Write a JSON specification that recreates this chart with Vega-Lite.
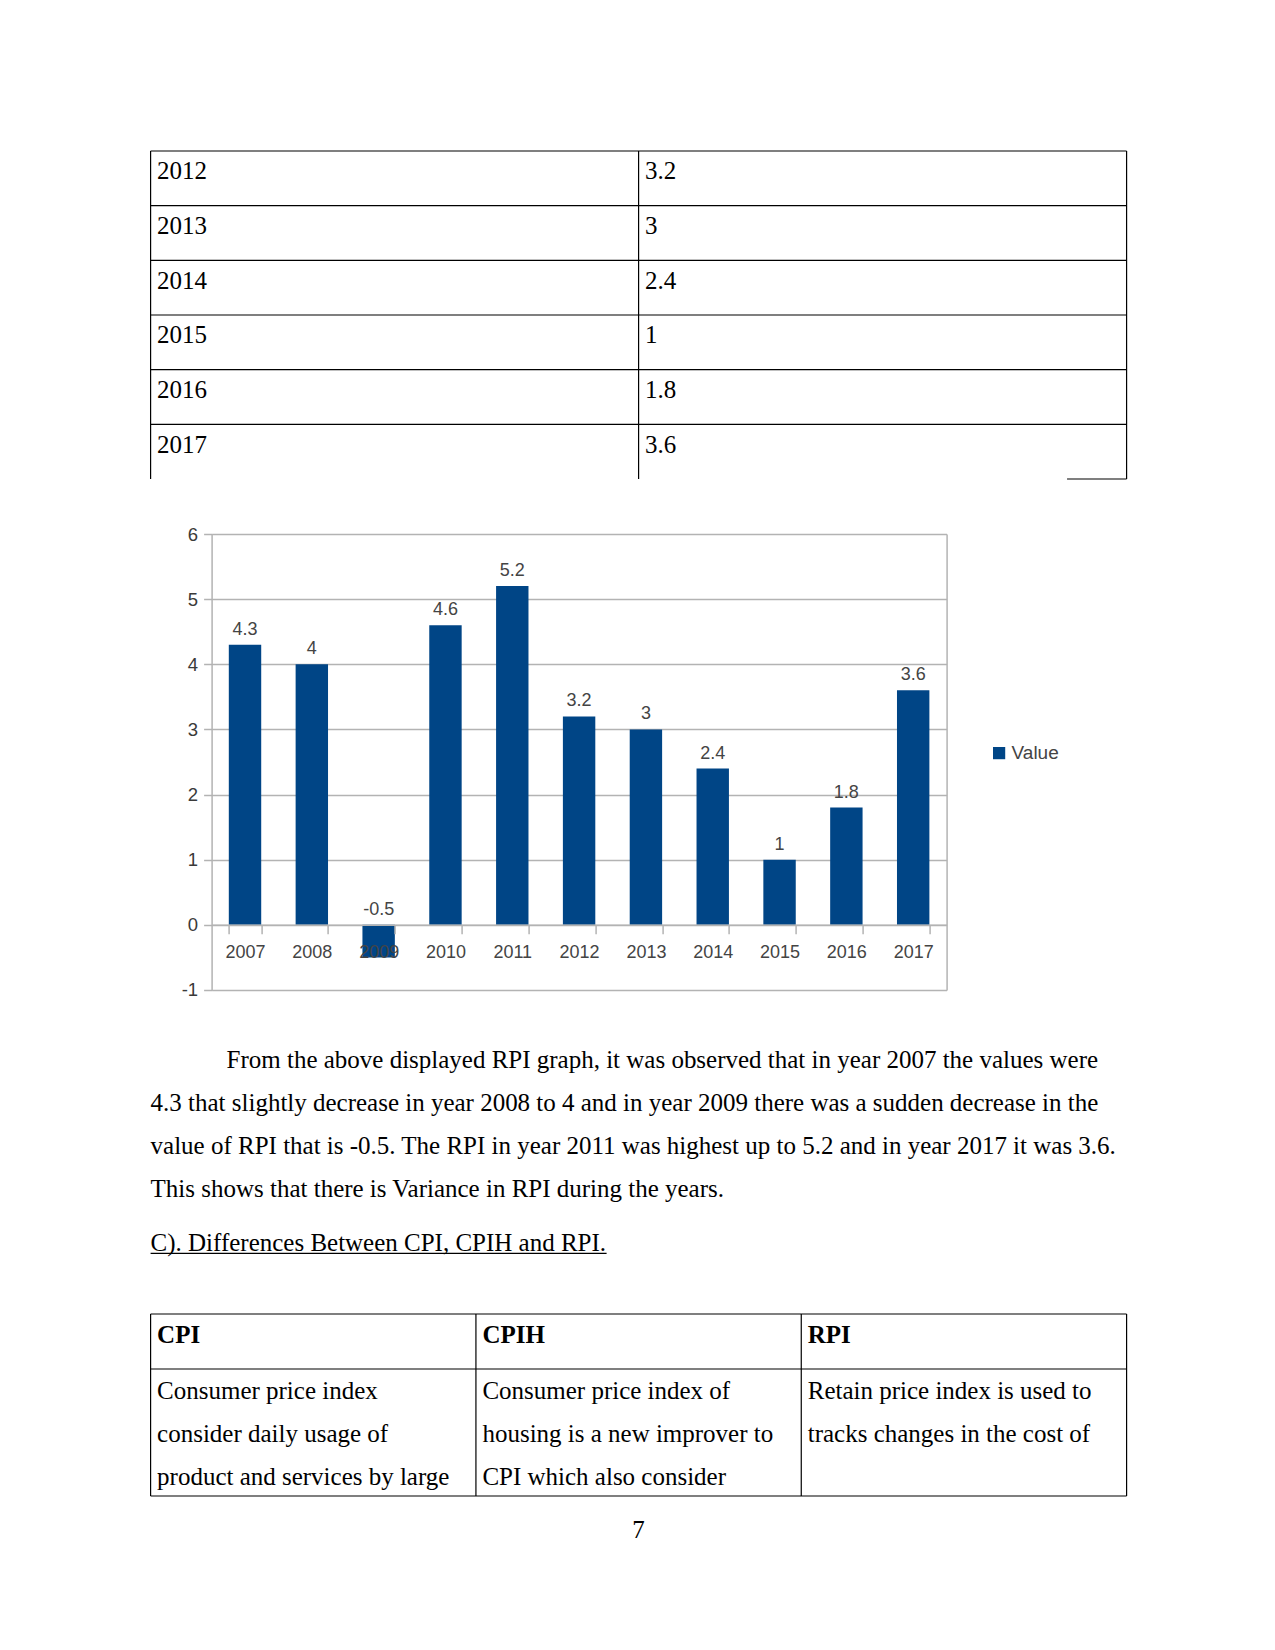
{
  "$schema": "https://vega.github.io/schema/vega-lite/v6.json",
  "background": "white",
  "padding": {"left": 149.6, "top": 150, "right": 0, "bottom": 0},
  "config": {"view": {"stroke": null}},
  "bounds": "flush",
  "spacing": 0,
  "vconcat": [
    {
      "width": 976,
      "height": 328,
      "data": {"values": [
        {"row": "2012", "col": "Year", "text": "2012"}, {"row": "2012", "col": "Value", "text": "3.2"},
        {"row": "2013", "col": "Year", "text": "2013"}, {"row": "2013", "col": "Value", "text": "3"},
        {"row": "2014", "col": "Year", "text": "2014"}, {"row": "2014", "col": "Value", "text": "2.4"},
        {"row": "2015", "col": "Year", "text": "2015"}, {"row": "2015", "col": "Value", "text": "1"},
        {"row": "2016", "col": "Year", "text": "2016"}, {"row": "2016", "col": "Value", "text": "1.8"},
        {"row": "2017", "col": "Year", "text": "2017"}, {"row": "2017", "col": "Value", "text": "3.6"}
      ]},
      "layer": [
        {
          "transform": [{"filter": "datum.col === 'Year'"}],
          "mark": {"type": "rule", "color": "#000000", "strokeWidth": 1.2},
          "encoding": {"y": {"field": "row", "type": "ordinal", "bandPosition": 0, "scale": {"type": "band", "paddingInner": 0, "paddingOuter": 0}, "axis": null}}
        },
        {
          "transform": [{"filter": "datum.row === '2012'"}],
          "mark": {"type": "rule", "color": "#000000", "strokeWidth": 1.2},
          "encoding": {"x": {"field": "col", "type": "nominal", "sort": ["Year", "Value"], "bandPosition": 0, "scale": {"type": "band", "paddingInner": 0, "paddingOuter": 0}, "axis": null}}
        },
        {
          "transform": [{"filter": "datum.row === '2012' && datum.col === 'Value'"}],
          "mark": {"type": "rule", "color": "#000000", "strokeWidth": 1.2},
          "encoding": {"x": {"field": "col", "type": "nominal", "sort": ["Year", "Value"], "bandPosition": 1, "scale": {"type": "band", "paddingInner": 0, "paddingOuter": 0}, "axis": null}}
        },
        {
          "transform": [{"filter": "datum.row === '2017' && datum.col === 'Value'"}],
          "mark": {"type": "rule", "color": "#000000", "strokeWidth": 1.2},
          "encoding": {
            "x": {"field": "col", "type": "nominal", "sort": ["Year", "Value"], "bandPosition": 0.878, "scale": {"type": "band", "paddingInner": 0, "paddingOuter": 0}, "axis": null},
            "x2": {"field": "col", "bandPosition": 1},
            "y": {"field": "row", "type": "ordinal", "bandPosition": 1, "scale": {"type": "band", "paddingInner": 0, "paddingOuter": 0}, "axis": null}
          }
        },
        {
          "mark": {"type": "text", "align": "left", "baseline": "alphabetic", "dx": 6.5, "dy": 28.3, "font": "Liberation Serif", "fontSize": 25, "color": "#000000"},
          "encoding": {
            "x": {"field": "col", "type": "nominal", "sort": ["Year", "Value"], "bandPosition": 0, "scale": {"type": "band", "paddingInner": 0, "paddingOuter": 0}, "axis": null},
            "y": {"field": "row", "type": "ordinal", "bandPosition": 0, "scale": {"type": "band", "paddingInner": 0, "paddingOuter": 0}, "axis": null},
            "text": {"field": "text"}
          }
        }
      ]
    },
    {"width": 20, "height": 55, "data": {"values": [{}]}, "mark": {"type": "point", "opacity": 0}, "encoding": {}},
    {
      "width": 796,
      "height": 456,
      "data": {"values": [
        {"year": "2007", "value": 4.3},
        {"year": "2008", "value": 4},
        {"year": "2009", "value": -0.5},
        {"year": "2010", "value": 4.6},
        {"year": "2011", "value": 5.2},
        {"year": "2012", "value": 3.2},
        {"year": "2013", "value": 3},
        {"year": "2014", "value": 2.4},
        {"year": "2015", "value": 1},
        {"year": "2016", "value": 1.8},
        {"year": "2017", "value": 3.6}
      ]},
      "encoding": {
        "x": {
          "field": "year", "type": "ordinal",
          "scale": {"type": "band", "range": [61, 796], "paddingInner": 0.515, "paddingOuter": 0.2575},
          "axis": {
            "title": null, "orient": "bottom", "offset": -65.14, "labelAngle": 0,
            "domain": true, "domainColor": "#b3b3b3", "domainWidth": 1.5,
            "ticks": true, "tickBand": "extent", "tickSize": 9, "tickColor": "#b3b3b3", "tickWidth": 1.5,
            "labelPadding": 9.8, "labelFont": "Liberation Sans", "labelFontSize": 18, "labelColor": "#444444",
            "grid": false, "zindex": 1
          }
        }
      },
      "layer": [
        {
          "mark": {"type": "bar"},
          "encoding": {
            "y": {
              "field": "value", "type": "quantitative",
              "scale": {"domain": [-1, 6], "nice": false, "zero": false},
              "axis": {
                "title": null, "orient": "left", "offset": -61, "values": [-1, 0, 1, 2, 3, 4, 5, 6], "labelExpr": "'' + datum.value",
                "grid": true, "gridColor": "#b3b3b3", "gridWidth": 1.5,
                "domain": true, "domainColor": "#b3b3b3", "domainWidth": 1.5,
                "ticks": true, "tickSize": 8, "tickColor": "#b3b3b3", "tickWidth": 1.5,
                "labelPadding": 6, "labelFont": "Liberation Sans", "labelFontSize": 18.5, "labelColor": "#3a3a3a",
                "zindex": 0
              }
            },
            "color": {
              "datum": "Value", "type": "nominal",
              "scale": {"range": ["#004586"]},
              "legend": {
                "title": null, "orient": "none", "legendX": 839, "legendY": 592.6, "padding": 0,
                "symbolType": "square", "symbolSize": 150, "symbolStrokeWidth": 0,
                "labelFont": "Liberation Sans", "labelFontSize": 19, "labelColor": "#444444", "labelOffset": 3
              }
            }
          }
        },
        {
          "transform": [{"filter": "datum.value >= 0"}],
          "mark": {"type": "text", "font": "Liberation Sans", "fontSize": 18, "color": "#444444", "baseline": "alphabetic", "align": "center", "dy": -10},
          "encoding": {
            "y": {
              "field": "value", "type": "quantitative",
              "axis": {"title": null, "orient": "right", "labels": false, "ticks": false, "grid": false, "domain": true, "domainColor": "#b3b3b3", "domainWidth": 1.5}
            },
            "text": {"field": "value", "type": "nominal"}
          }
        },
        {
          "transform": [{"filter": "datum.value < 0"}],
          "mark": {"type": "text", "font": "Liberation Sans", "fontSize": 18, "color": "#444444", "baseline": "alphabetic", "align": "center", "dy": -10},
          "encoding": {
            "y": {"datum": 0, "type": "quantitative", "axis": null},
            "text": {"field": "value", "type": "nominal"}
          }
        }
      ],
      "resolve": {"axis": {"y": "independent"}}
    },
    {"width": 20, "height": 49, "data": {"values": [{}]}, "mark": {"type": "point", "opacity": 0}, "encoding": {}},
    {
      "width": 976,
      "height": 172,
      "data": {"values": [
        {"line": 1, "text": "From the above displayed RPI graph, it was observed that in year 2007 the values were"},
        {"line": 2, "text": "4.3 that slightly decrease in year 2008 to 4 and in year 2009 there was a sudden decrease in the"},
        {"line": 3, "text": "value of RPI that is -0.5. The RPI in year 2011 was highest up to 5.2 and in year 2017 it was 3.6."},
        {"line": 4, "text": "This shows that there is Variance in RPI during the years."}
      ]},
      "layer": [
        {
          "transform": [{"filter": "datum.line === 1"}],
          "mark": {"type": "text", "align": "left", "baseline": "alphabetic", "dx": 76, "dy": 28.8, "font": "Liberation Serif", "fontSize": 25, "color": "#000000"},
          "encoding": {
            "x": {"datum": "p", "type": "nominal", "bandPosition": 0, "scale": {"type": "band", "paddingInner": 0, "paddingOuter": 0}, "axis": null},
            "y": {"field": "line", "type": "ordinal", "bandPosition": 0, "scale": {"type": "band", "paddingInner": 0, "paddingOuter": 0, "domain": [1, 2, 3, 4]}, "axis": null},
            "text": {"field": "text"}
          }
        },
        {
          "transform": [{"filter": "datum.line > 1"}],
          "mark": {"type": "text", "align": "left", "baseline": "alphabetic", "dx": 0, "dy": 28.8, "font": "Liberation Serif", "fontSize": 25, "color": "#000000"},
          "encoding": {
            "x": {"datum": "p", "type": "nominal", "bandPosition": 0, "scale": {"type": "band", "paddingInner": 0, "paddingOuter": 0}, "axis": null},
            "y": {"field": "line", "type": "ordinal", "bandPosition": 0, "scale": {"type": "band", "paddingInner": 0, "paddingOuter": 0, "domain": [1, 2, 3, 4]}, "axis": null},
            "text": {"field": "text"}
          }
        }
      ]
    },
    {"width": 20, "height": 11, "data": {"values": [{}]}, "mark": {"type": "point", "opacity": 0}, "encoding": {}},
    {
      "width": 456,
      "height": 43,
      "data": {"values": [{"line": "heading", "text": "C). Differences Between CPI, CPIH and RPI."}]},
      "layer": [
        {
          "mark": {"type": "text", "align": "left", "baseline": "alphabetic", "dy": 28.8, "font": "Liberation Serif", "fontSize": 25, "color": "#000000"},
          "encoding": {
            "x": {"datum": "h", "type": "nominal", "bandPosition": 0, "scale": {"type": "band", "paddingInner": 0, "paddingOuter": 0}, "axis": null},
            "y": {"field": "line", "type": "ordinal", "bandPosition": 0, "scale": {"type": "band", "paddingInner": 0, "paddingOuter": 0}, "axis": null},
            "text": {"field": "text"}
          }
        },
        {
          "mark": {"type": "rule", "color": "#000000", "strokeWidth": 1.3},
          "encoding": {
            "y": {"field": "line", "type": "ordinal", "bandPosition": 0.73, "scale": {"type": "band", "paddingInner": 0, "paddingOuter": 0}, "axis": null}
          }
        }
      ]
    },
    {"width": 20, "height": 49, "data": {"values": [{}]}, "mark": {"type": "point", "opacity": 0}, "encoding": {}},
    {
      "width": 976,
      "height": 55,
      "data": {"values": [
        {"row": "header", "col": "CPI", "text": "CPI"},
        {"row": "header", "col": "CPIH", "text": "CPIH"},
        {"row": "header", "col": "RPI", "text": "RPI"}
      ]},
      "layer": [
        {
          "transform": [{"filter": "datum.col === 'CPI'"}],
          "mark": {"type": "rule", "color": "#000000", "strokeWidth": 1.2},
          "encoding": {"y": {"field": "row", "type": "nominal", "bandPosition": 0, "scale": {"type": "band", "paddingInner": 0, "paddingOuter": 0}, "axis": null}}
        },
        {
          "mark": {"type": "rule", "color": "#000000", "strokeWidth": 1.2},
          "encoding": {"x": {"field": "col", "type": "nominal", "sort": ["CPI", "CPIH", "RPI"], "bandPosition": 0, "scale": {"type": "band", "paddingInner": 0, "paddingOuter": 0}, "axis": null}}
        },
        {
          "transform": [{"filter": "datum.col === 'RPI'"}],
          "mark": {"type": "rule", "color": "#000000", "strokeWidth": 1.2},
          "encoding": {"x": {"field": "col", "type": "nominal", "sort": ["CPI", "CPIH", "RPI"], "bandPosition": 1, "scale": {"type": "band", "paddingInner": 0, "paddingOuter": 0}, "axis": null}}
        },
        {
          "mark": {"type": "text", "align": "left", "baseline": "alphabetic", "dx": 6.5, "dy": 29.5, "font": "Liberation Serif", "fontSize": 25, "fontWeight": "bold", "color": "#000000"},
          "encoding": {
            "x": {"field": "col", "type": "nominal", "sort": ["CPI", "CPIH", "RPI"], "bandPosition": 0, "scale": {"type": "band", "paddingInner": 0, "paddingOuter": 0}, "axis": null},
            "y": {"field": "row", "type": "nominal", "bandPosition": 0, "scale": {"type": "band", "paddingInner": 0, "paddingOuter": 0}, "axis": null},
            "text": {"field": "text"}
          }
        }
      ]
    },
    {
      "width": 976,
      "height": 127,
      "data": {"values": [
        {"row": "body", "col": "CPI", "text": ["Consumer price index", "consider daily usage of", "product and services by large"]},
        {"row": "body", "col": "CPIH", "text": ["Consumer price index of", "housing is a new improver to", "CPI which also consider"]},
        {"row": "body", "col": "RPI", "text": ["Retain price index is used to", "tracks changes in the cost of"]}
      ]},
      "layer": [
        {
          "transform": [{"filter": "datum.col === 'CPI'"}],
          "mark": {"type": "rule", "color": "#000000", "strokeWidth": 1.2},
          "encoding": {"y": {"field": "row", "type": "nominal", "bandPosition": 0, "scale": {"type": "band", "paddingInner": 0, "paddingOuter": 0}, "axis": null}}
        },
        {
          "transform": [{"filter": "datum.col === 'CPI'"}],
          "mark": {"type": "rule", "color": "#000000", "strokeWidth": 1.2},
          "encoding": {"y": {"field": "row", "type": "nominal", "bandPosition": 1, "scale": {"type": "band", "paddingInner": 0, "paddingOuter": 0}, "axis": null}}
        },
        {
          "mark": {"type": "rule", "color": "#000000", "strokeWidth": 1.2},
          "encoding": {"x": {"field": "col", "type": "nominal", "sort": ["CPI", "CPIH", "RPI"], "bandPosition": 0, "scale": {"type": "band", "paddingInner": 0, "paddingOuter": 0}, "axis": null}}
        },
        {
          "transform": [{"filter": "datum.col === 'RPI'"}],
          "mark": {"type": "rule", "color": "#000000", "strokeWidth": 1.2},
          "encoding": {"x": {"field": "col", "type": "nominal", "sort": ["CPI", "CPIH", "RPI"], "bandPosition": 1, "scale": {"type": "band", "paddingInner": 0, "paddingOuter": 0}, "axis": null}}
        },
        {
          "mark": {"type": "text", "align": "left", "baseline": "alphabetic", "dx": 6.5, "dy": 29.8, "lineHeight": 43.1, "font": "Liberation Serif", "fontSize": 25, "color": "#000000"},
          "encoding": {
            "x": {"field": "col", "type": "nominal", "sort": ["CPI", "CPIH", "RPI"], "bandPosition": 0, "scale": {"type": "band", "paddingInner": 0, "paddingOuter": 0}, "axis": null},
            "y": {"field": "row", "type": "nominal", "bandPosition": 0, "scale": {"type": "band", "paddingInner": 0, "paddingOuter": 0}, "axis": null},
            "text": {"field": "text"}
          }
        }
      ]
    },
    {
      "width": 976,
      "height": 67,
      "data": {"values": [{"text": "7"}]},
      "mark": {"type": "text", "align": "center", "baseline": "alphabetic", "dy": 8.5, "font": "Liberation Serif", "fontSize": 25, "color": "#000000"},
      "encoding": {"text": {"field": "text"}}
    }
  ]
}
